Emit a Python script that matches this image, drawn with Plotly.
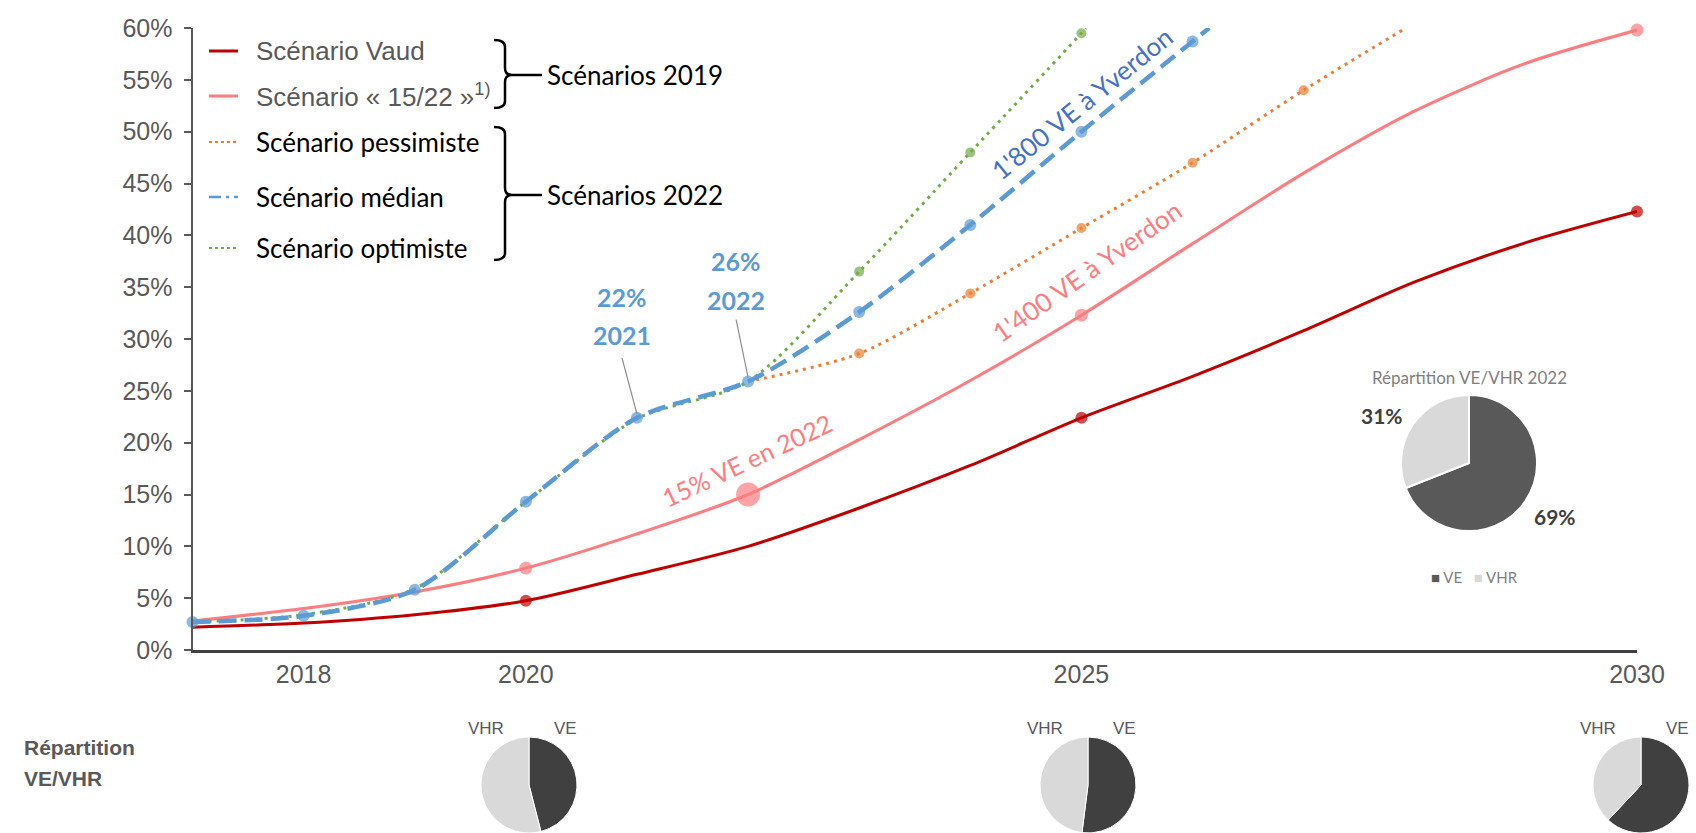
import plotly.graph_objects as go

# ---------------------------------------------------------------- data
years = list(range(2017, 2031))

# Scénarios 2019 (part of EV in new registrations, %)
vaud = [2.2, 2.6, 3.4, 4.75, 7.3, 10.0, 13.7, 17.8, 22.4, 26.4, 30.8, 35.5, 39.3, 42.3]
vaud_marker_size = [0, 0, 0, 12, 0, 0, 0, 0, 12, 0, 0, 0, 0, 12]

s1522 = [2.8, 4.0, 5.6, 7.9, 11.2, 15.0, 20.3, 26.0, 32.3, 39.2, 46.0, 52.0, 56.6, 59.8]
s1522_marker_size = [0, 0, 0, 13, 0, 24, 0, 0, 13, 0, 0, 0, 0, 13]

# Scénarios 2022 (lines leave the chart at 60 %)
median_years = [2017, 2018, 2019, 2020, 2021, 2022, 2023, 2024, 2025, 2026, 2026.15]
median = [2.7, 3.3, 5.8, 14.3, 22.4, 25.9, 32.6, 41.0, 50.0, 58.7, 60.0]
median_marker_size = [12, 12, 12, 12, 12, 12, 12, 12, 12, 12, 0]

optim_years = [2017, 2018, 2019, 2020, 2021, 2022, 2023, 2024, 2025, 2025.04]
optim = [2.7, 3.4, 5.9, 14.3, 22.3, 25.9, 36.5, 48.0, 59.5, 60.0]
optim_marker_size = [0, 0, 0, 0, 0, 0, 10, 10, 10, 0]

pessim_years = [2022, 2023, 2024, 2025, 2026, 2027, 2027.92]
pessim = [25.9, 28.6, 34.4, 40.7, 47.0, 54.0, 60.0]
pessim_marker_size = [0, 10, 10, 10, 10, 10, 0]

x_ticks = [2018, 2020, 2025, 2030]
y_ticks = list(range(0, 61, 5))

# VE / VHR split
split_labels = ["VE", "VHR"]
split_2022 = [69, 31]
split_years = [2020, 2025, 2030]
split_ve = [46, 52, 62]
split_vhr = [54, 48, 38]

# ---------------------------------------------------------------- style
W, H = 1696, 833
PLOT_L, PLOT_R, PLOT_T, PLOT_B = 192.5, 1637.0, 28.0, 650.0

RED = "#C00000"
PINK = "#FF7C80"
ORANGE = "#ED7D31"
BLUE = "#5B9BD5"
DARKBLUE = "#4472C4"
GREEN = "#70AD47"
GREY = "#595959"
DARK = "#404040"
LIGHT = "#D9D9D9"

ARIAL = "Liberation Sans, Arial, sans-serif"
CAL = "Lato, Carlito, Calibri, sans-serif"


def px(x):
    return x / W


def py(y):
    return 1 - y / H


fig = go.Figure()


def add_line(x, y, color, width, dash, sizes):
    fig.add_trace(go.Scatter(
        x=x, y=y, mode="lines+markers", cliponaxis=False,
        line=dict(color=color, width=width, dash=dash, shape="spline", smoothing=0.8),
        marker=dict(size=sizes, color=color, line=dict(width=0)),
        showlegend=False, hoverinfo="skip",
    ))


add_line(years, vaud, RED, 3, "solid", vaud_marker_size)
add_line(years, s1522, PINK, 3, "solid", s1522_marker_size)
add_line(pessim_years, pessim, ORANGE, 3, "3px,5px", pessim_marker_size)
add_line(optim_years, optim, GREEN, 3, "3px,5px", optim_marker_size)
add_line(median_years, median, BLUE, 4.5, "18px,8px", median_marker_size)

# ---------------------------------------------------------------- pies
fig.add_trace(go.Pie(
    labels=split_labels, values=split_2022, sort=False, direction="clockwise", rotation=0,
    marker=dict(colors=["#595959", LIGHT], line=dict(color="white", width=2)),
    textinfo="none", hoverinfo="skip", showlegend=False,
    domain=dict(x=[px(1401), px(1537)], y=[py(531), py(395)]),
))

pie_cx = {2020: 529, 2025: 1088, 2030: 1641}
for yr, ve, vhr in zip(split_years, split_ve, split_vhr):
    cx = pie_cx[yr]
    fig.add_trace(go.Pie(
        labels=split_labels, values=[ve, vhr], sort=False, direction="clockwise", rotation=0,
        marker=dict(colors=[DARK, LIGHT], line=dict(color="white", width=1)),
        textinfo="none", hoverinfo="skip", showlegend=False,
        domain=dict(x=[px(cx - 50), px(cx + 50)], y=[0, py(737)]),
    ))

# ---------------------------------------------------------------- annotations
ann = []
shapes = []


def text(x, y, s, size, color, family=CAL, angle=0, xanchor="center", bold=False):
    ann.append(dict(
        x=px(x), y=py(y), xref="paper", yref="paper", text=f"<b>{s}</b>" if bold else s,
        showarrow=False, font=dict(size=size, color=color, family=family),
        textangle=angle, xanchor=xanchor, yanchor="middle",
    ))


# callouts on the median line, with grey leader lines ending on the point
text(622, 297, f"{round(median[4])}%", 25, BLUE, bold=True)
text(622, 335, str(median_years[4]), 25, BLUE, bold=True)
text(736, 261, f"{round(median[5])}%", 25, BLUE, bold=True)
text(736, 300, str(median_years[5]), 25, BLUE, bold=True)
for i, (dx, dy) in zip([4, 5], [(-15, 60), (-12, 62)]):
    shapes.append(dict(
        type="line", xref="x", yref="y",
        xsizemode="pixel", ysizemode="pixel",
        xanchor=median_years[i], yanchor=median[i],
        x0=dx, y0=dy, x1=0, y1=4,
        line=dict(color="#8C8C8C", width=1.2),
    ))

text(747, 460, f"{round(s1522[5])}% VE en 2022", 25, PINK, angle=-25)
text(1087, 271, "1'400 VE à Yverdon", 26, PINK, angle=-35)
text(1082, 103, "1'800 VE à Yverdon", 26, DARKBLUE, angle=-39)

# legend
legend_rows = [
    (51, "Scénario Vaud", RED, "solid", 3, ARIAL, GREY, 26),
    (96, "Scénario « 15/22 »<sup>1)</sup>", PINK, "solid", 3, ARIAL, GREY, 26),
    (142, "Scénario pessimiste", ORANGE, "3px,3px", 2, CAL, "black", 26),
    (197, "Scénario médian", BLUE, "12px,5px,3px,5px", 2.5, CAL, "black", 26),
    (248, "Scénario optimiste", GREEN, "3px,3px", 2, CAL, "black", 26),
]
for y, label, color, dash, w, fam, tcol, size in legend_rows:
    shapes.append(dict(type="line", xref="paper", yref="paper",
                       x0=px(209), x1=px(238), y0=py(y), y1=py(y),
                       line=dict(color=color, width=w, dash=dash)))
    text(254, y, label, size, tcol, family=fam, xanchor="left")


def brace(ytop, ybot, ymid):
    xl, xv, xm, r = 494, 505, 512, 7
    pts = (f"M {px(xl)},{py(ytop)} Q {px(xv)},{py(ytop)} {px(xv)},{py(ytop + r)} "
           f"L {px(xv)},{py(ymid - r)} Q {px(xv)},{py(ymid)} {px(xm)},{py(ymid)} "
           f"Q {px(xv)},{py(ymid)} {px(xv)},{py(ymid + r)} "
           f"L {px(xv)},{py(ybot - r)} Q {px(xv)},{py(ybot)} {px(xl)},{py(ybot)}")
    shapes.append(dict(type="path", xref="paper", yref="paper", path=pts,
                       line=dict(color="black", width=2.5)))
    shapes.append(dict(type="line", xref="paper", yref="paper",
                       x0=px(xm), x1=px(542), y0=py(ymid), y1=py(ymid),
                       line=dict(color="black", width=2.5)))


brace(40, 108, 75)
brace(127, 260, 195)
text(545, 75, "Scénarios 2019", 26, "black", xanchor="left")
text(545, 195, "Scénarios 2022", 26, "black", xanchor="left")

# inset pie labels
text(1469, 378, "Répartition VE/VHR 2022", 17, "#7F7F7F")
text(1382, 415, f"{split_2022[1]}%", 21, DARK, bold=True)
text(1555, 516, f"{split_2022[0]}%", 21, DARK, bold=True)
text(1474, 577,
     f"<span style='color:#595959'>■</span> {split_labels[0]}   "
     f"<span style='color:{LIGHT}'>■</span> {split_labels[1]}", 15, "#7F7F7F")

# bottom split row
text(22, 747, "Répartition", 21, GREY, family=ARIAL, xanchor="left", bold=True)
text(22, 778, "VE/VHR", 21, GREY, family=ARIAL, xanchor="left", bold=True)
for yr in split_years:
    cx = pie_cx[yr]
    text(cx - 43, 728, split_labels[1], 17, GREY, family=ARIAL)
    text(cx + 36, 728, split_labels[0], 17, GREY, family=ARIAL)

# ---------------------------------------------------------------- layout
fig.update_layout(
    width=W, height=H,
    margin=dict(l=0, r=0, t=0, b=0, autoexpand=False),
    paper_bgcolor="white", plot_bgcolor="white",
    xaxis=dict(
        domain=[px(PLOT_L), px(PLOT_R)], range=[2017, 2030], automargin=False,
        tickmode="array", tickvals=x_ticks, ticktext=[str(v) for v in x_ticks],
        showgrid=False, zeroline=False, showline=True, linecolor=DARK, linewidth=3,
        ticks="", tickfont=dict(family=ARIAL, size=25, color=GREY), ticklabelstandoff=0,
    ),
    yaxis=dict(
        domain=[py(PLOT_B), py(PLOT_T)], range=[0, 60], automargin=False,
        tickmode="array", tickvals=y_ticks, ticktext=[f"{v}%" for v in y_ticks],
        showgrid=False, zeroline=False, showline=True, linecolor=GREY, linewidth=2,
        ticks="outside", ticklen=7, tickwidth=2, tickcolor=GREY,
        tickfont=dict(family=ARIAL, size=25, color=GREY), ticklabelstandoff=6,
    ),
    annotations=ann,
    shapes=shapes,
)

fig.write_html("out.html")
